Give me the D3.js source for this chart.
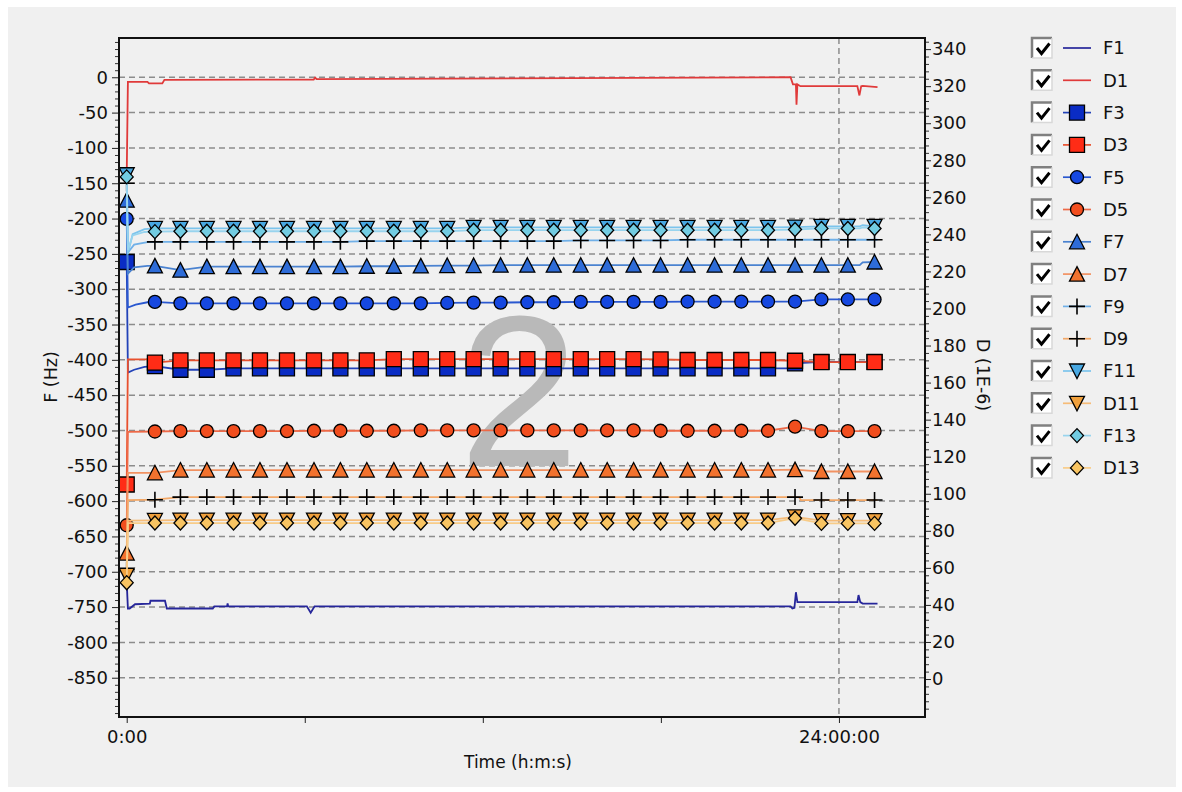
<!DOCTYPE html>
<html><head><meta charset="utf-8">
<script src="https://cdn.jsdelivr.net/npm/d3@7"></script>
<style>
html,body{margin:0;padding:0;background:#fff;}
svg{display:block;font-family:"DejaVu Sans",sans-serif;}
</style></head><body>
<svg id="chart" width="1182" height="792"></svg>
<script>
// ---- data -------------------------------------------------------------
// hours at which each marked sample was taken (index 0 = start of run)
const markerHours = [0, 0.95, 1.81, 2.70, 3.60, 4.49, 5.40, 6.31, 7.20, 8.09, 9.00, 9.91,
  10.80, 11.69, 12.60, 13.50, 14.39, 15.30, 16.19, 17.08, 17.99, 18.90, 19.81, 20.71,
  21.61, 22.52, 23.41, 24.30, 25.20];

// fundamental overtone, plotted as a plain trace: [hours, value]
const F1 = [[0,-715],[0.04,-752],[0.1,-752],[0.28,-746],[0.78,-745],[0.8,-741],[1.29,-741],
  [1.35,-752],[2.9,-752],[2.95,-749],[3.38,-749],[3.4,-745],[3.42,-749],[6.07,-749],
  [6.2,-758],[6.33,-749],[22.37,-749],[22.43,-752],[22.5,-751],[22.55,-729],[22.6,-743],
  [24.62,-743],[24.66,-733],[24.72,-743],[24.8,-745],[25.3,-745]];
const D1 = [[0,272],[0.04,322.3],[0.7,322.3],[0.75,321.5],[1.2,321.5],[1.27,323.4],
  [6.3,323.6],[6.35,324.6],[6.4,323.8],[22.37,324.8],[22.45,321],[22.55,321],[22.57,310],
  [22.6,321],[22.7,320],[24.62,320],[24.69,315],[24.75,320],[24.8,320.2],[25.3,319.5]];

// higher overtones: one value per entry of markerHours
const F3 = [-261.5, -409, -414, -414, -412, -412, -412, -412, -412, -412, -412, -412,
  -412, -412, -412, -412, -412, -412, -412, -412, -412, -412, -412, -412,
  -412, -405, -403, -403, -403];
const D3 = [105, 170.8, 172, 172, 172, 172, 172, 172, 172, 172, 172.7, 172.7,
  172.7, 172.7, 172.7, 172.7, 172.7, 172.7, 172.7, 172.7, 172.5, 172.2, 172.2, 172.2,
  172.2, 171.8, 171, 171, 171];
const F5 = [-200.5, -318, -320, -320, -320, -320, -320, -320, -320, -320, -320, -320,
  -319.5, -319, -319, -318.5, -318.5, -318, -318, -318, -318, -317.5, -317.5, -317.5,
  -317.5, -317.5, -314.5, -314.5, -314.5];
const D5 = [83, 133.6, 133.8, 133.8, 133.8, 133.8, 133.8, 134, 134, 134, 134, 134.2,
  134.2, 134.2, 134.2, 134.2, 134.2, 134.2, 134.2, 134.2, 134, 134, 134, 134,
  134, 136.2, 133.8, 133.8, 133.8];
const F7 = [-174, -267, -273, -268, -268, -268, -268, -268, -268, -267.5, -267.5, -267,
  -266.5, -266.5, -266, -266, -266, -266, -266, -266, -266, -266, -266, -266,
  -266, -266, -266, -266, -261.5];
const D7 = [68, 111.3, 112.8, 112.8, 112.8, 112.8, 112.8, 112.8, 112.8, 112.8, 112.8, 112.8,
  112.8, 112.8, 112.8, 112.8, 112.8, 112.8, 112.8, 112.8, 112.8, 112.8, 112.8, 112.8,
  112.8, 113, 112, 112, 112];
const F9 = [-150, -233, -233, -233, -233, -233, -233, -233, -233, -232, -232, -232,
  -232, -232, -232, -232, -232, -231, -231, -231, -231, -230, -230, -230,
  -230, -230, -230, -230, -230];
const D9 = [59, 96.8, 98.2, 98.2, 98.2, 98.2, 98.2, 98.2, 98.2, 98.2, 98.2, 98.2,
  98.2, 98.2, 98.2, 98.2, 98.2, 98.2, 98.2, 98.2, 98.2, 98.2, 98.2, 98.2,
  98.2, 98.2, 96.6, 96.6, 96.6];
const F11 = [-138, -214, -214, -214, -214, -214, -214, -214, -214, -214, -214, -214,
  -214, -212.5, -212.5, -212.5, -212.5, -212.5, -212.5, -212.5, -212.5, -212.5, -212.5, -212.5,
  -212.5, -212, -211, -211, -211];
const D11 = [56, 85.6, 85.8, 85.8, 85.8, 85.8, 85.8, 85.8, 85.8, 85.8, 85.8, 85.8,
  85.8, 85.8, 85.8, 85.8, 85.8, 85.8, 85.8, 85.8, 85.8, 85.8, 85.8, 85.8,
  85.8, 87.5, 85.5, 85.5, 85.5];
const F13 = [-141, -218.5, -218, -218, -218, -218, -218, -218, -218, -218, -218, -218,
  -218, -216.5, -216.5, -216.5, -216.5, -216.5, -216.5, -216.5, -216.5, -216.5, -216.5, -216.5,
  -216.5, -215.5, -214, -214, -214];
const D13 = [52, 84.2, 84.2, 84.2, 84.2, 84.2, 84.2, 84.2, 84.2, 84.2, 84.2, 84.2,
  84.2, 84.2, 84.2, 84.2, 84.2, 84.2, 84.2, 84.2, 84.2, 84.2, 84.2, 84.2,
  84.2, 86.8, 84, 84, 84];

// unmarked samples of the settling phase right after injection: [hours, value]
const F3Lead = [[0.04,-418],[0.25,-414],[0.6,-410]];
const D3Lead = [[0.04,172.5],[0.7,172.5]];
const F5Lead = [[0.04,-326],[0.3,-322],[0.7,-318.5]];
const D5Lead = [[0.04,133.4]];
const F7Lead = [[0.04,-278],[0.25,-269],[0.7,-267]];
const D7Lead = [[0.04,111.3]];
const F9Lead = [[0.04,-248],[0.25,-237],[0.7,-233.5]];
const D9Lead = [[0.04,96.6]];
const F11Lead = [[0.04,-250],[0.2,-222],[0.6,-215]];
const D11Lead = [[0.04,85.5]];
const F13Lead = [[0.04,-245],[0.2,-224],[0.6,-219]];
const D13Lead = [[0.04,84.2]];

// unmarked samples near the end of the run: [hours, value]
const F3Tail = [[22.35,-412],[22.45,-405],[25.3,-403]];
const D3Tail = [[25.3,171]];
const F5Tail = [[25.3,-314.5]];
const D5Tail = [[25.3,133.8]];
const F7Tail = [[24.7,-266],[24.8,-262],[25.3,-261.5]];
const D7Tail = [[25.3,112]];
const F9Tail = [[25.3,-230]];
const D9Tail = [[22.65,98.2],[22.72,96.6],[25.3,96.6]];
const F11Tail = [[24.7,-211],[24.8,-209.5],[25.3,-209.5]];
const D11Tail = [[25.3,85.5]];
const F13Tail = [[24.7,-214],[24.8,-212.5],[25.3,-212.5]];
const D13Tail = [[25.3,84]];

const fTicks = d3.range(-850, 1, 50);
const dTicks = d3.range(0, 341, 20);
const timeTicks = [0, 6, 12, 18, 24];
const timeLabels = {0: "0:00", 24: "24:00:00"};

// ---- styling ------------------------------------------------------------
const styles = {
  F1:  {line: "#26269a"},
  D1:  {line: "#e03a3a"},
  F3:  {line: "#2242b8", fill: "#0a2cc4", shape: "square"},
  D3:  {line: "#e8502e", fill: "#ff2c16", shape: "square"},
  F5:  {line: "#2a58d0", fill: "#1648e0", shape: "circle"},
  D5:  {line: "#ee6a48", fill: "#f24e1e", shape: "circle"},
  F7:  {line: "#4a82d0", fill: "#2e6cd8", shape: "triUp"},
  D7:  {line: "#f29262", fill: "#f2722e", shape: "triUp"},
  F9:  {line: "#70b0e8", fill: "none",    shape: "plus"},
  D9:  {line: "#f2a868", fill: "none",    shape: "plus"},
  F11: {line: "#7cc4ec", fill: "#48a8e2", shape: "triDown"},
  D11: {line: "#f6bc78", fill: "#f0a03c", shape: "triDown"},
  F13: {line: "#98d4ee", fill: "#72cce2", shape: "diamond"},
  D13: {line: "#f8cc88", fill: "#f8c462", shape: "diamond"}
};

const series = [
  {name: "F1", axis: "F", trace: F1},
  {name: "D1", axis: "D", trace: D1},
  {name: "F3", axis: "F", values: F3, lead: F3Lead, tail: F3Tail},
  {name: "D3", axis: "D", values: D3, lead: D3Lead, tail: D3Tail},
  {name: "F5", axis: "F", values: F5, lead: F5Lead, tail: F5Tail},
  {name: "D5", axis: "D", values: D5, lead: D5Lead, tail: D5Tail},
  {name: "F7", axis: "F", values: F7, lead: F7Lead, tail: F7Tail},
  {name: "D7", axis: "D", values: D7, lead: D7Lead, tail: D7Tail},
  {name: "F9", axis: "F", values: F9, lead: F9Lead, tail: F9Tail},
  {name: "D9", axis: "D", values: D9, lead: D9Lead, tail: D9Tail},
  {name: "F11", axis: "F", values: F11, lead: F11Lead, tail: F11Tail},
  {name: "D11", axis: "D", values: D11, lead: D11Lead, tail: D11Tail},
  {name: "F13", axis: "F", values: F13, lead: F13Lead, tail: F13Tail},
  {name: "D13", axis: "D", values: D13, lead: D13Lead, tail: D13Tail}
];

// ---- layout ----------------------------------------------------------------
const svg = d3.select("#chart");
const plot = {left: 119, top: 38, right: 925, bottom: 717};

const x = d3.scaleLinear().domain([-0.26, 26.9]).range([plot.left, plot.right]);
const yF = d3.scaleLinear().domain([-905.6, 55.6]).range([plot.bottom, plot.top]);
const yD = d3.scaleLinear().domain([-20.5, 346]).range([plot.bottom, plot.top]);

// panel background
svg.append("rect").attr("x", 8).attr("y", 7).attr("width", 1168).attr("height", 780)
  .attr("fill", "#f0f0f0");

// dashed grid
const grid = svg.append("g").attr("stroke", "#8c8c8c").attr("stroke-width", 1.5)
  .attr("stroke-dasharray", "6,4");
grid.selectAll("line.h").data(fTicks).join("line").attr("class", "h")
  .attr("x1", plot.left).attr("x2", plot.right)
  .attr("y1", d => yF(d)).attr("y2", d => yF(d));
grid.append("line")
  .attr("x1", x(24)).attr("x2", x(24)).attr("y1", plot.top).attr("y2", plot.bottom);

// panel number
svg.append("text").attr("x", 519).attr("y", 466).attr("text-anchor", "middle")
  .attr("font-family", "Liberation Sans, Arial, sans-serif").attr("font-size", 216)
  .attr("fill", "#b9b9b9").text("2");

// ---- series ----------------------------------------------------------------
svg.append("clipPath").attr("id", "plotClip").append("rect")
  .attr("x", plot.left).attr("y", plot.top)
  .attr("width", plot.right - plot.left).attr("height", plot.bottom - plot.top);

function markerShape(g, shape, fill) {
  const s = g.append(shape === "circle" ? "circle" : "path")
    .attr("stroke", "#000").attr("stroke-width", 1.3).attr("fill", fill);
  if (shape === "circle") s.attr("r", 6.5);
  else if (shape === "square") s.attr("d", "M-7.5,-7.5H7.5V7.5H-7.5Z");
  else if (shape === "triUp") s.attr("d", "M0,-7.5L7.5,7L-7.5,7Z");
  else if (shape === "triDown") s.attr("d", "M-7.5,-7L7.5,-7L0,7.5Z");
  else if (shape === "diamond") s.attr("d", "M0,-7L6.5,0L0,7L-6.5,0Z");
  else if (shape === "plus") s.attr("d", "M-8,0H8M0,-8V8").attr("stroke-width", 1.6).attr("fill", "none");
  return s;
}

const plotG = svg.append("g").attr("clip-path", "url(#plotClip)");
series.forEach(s => {
  const yS = s.axis === "F" ? yF : yD;
  const st = styles[s.name];
  let pts;
  if (s.trace) pts = s.trace;
  else {
    pts = s.values.map((v, i) => [markerHours[i], v]).concat(s.lead, s.tail)
      .sort((a, b) => a[0] - b[0]);
  }
  const line = d3.line().x(d => x(d[0])).y(d => yS(d[1]));
  plotG.append("path").datum(pts).attr("d", line)
    .attr("fill", "none").attr("stroke", st.line).attr("stroke-width", 1.8)
    .attr("stroke-linejoin", "miter");
  if (s.values) {
    s.values.forEach((v, i) => {
      const g = plotG.append("g")
        .attr("transform", `translate(${x(markerHours[i])},${yS(v)})`);
      markerShape(g, st.shape, st.fill);
    });
  }
});

// ---- axes --------------------------------------------------------------------
const axisFont = g => g.selectAll("text").attr("font-size", 18)
  .attr("font-family", "DejaVu Sans, sans-serif").attr("fill", "#111");
const plain = d => String(d);

// left (frequency)
const leftMinor = d3.range(-900, 51, 10).filter(v => !fTicks.includes(v));
svg.append("g").attr("transform", `translate(${plot.left},0)`)
  .call(d3.axisLeft(yF).tickValues(leftMinor).tickSize(4).tickFormat(""))
  .call(g => g.select(".domain").remove())
  .call(g => g.selectAll("line").attr("stroke", "#333"));
svg.append("g").attr("transform", `translate(${plot.left},0)`)
  .call(d3.axisLeft(yF).tickValues(fTicks).tickSize(7).tickPadding(4).tickFormat(plain))
  .call(g => g.select(".domain").remove())
  .call(g => g.selectAll("line").attr("stroke", "#222"))
  .call(axisFont);

// right (dissipation)
const rightMinor = d3.range(-20, 346, 4).filter(v => v % 20 !== 0);
svg.append("g").attr("transform", `translate(${plot.right},0)`)
  .call(d3.axisRight(yD).tickValues(rightMinor).tickSize(4).tickFormat(""))
  .call(g => g.select(".domain").remove())
  .call(g => g.selectAll("line").attr("stroke", "#333"));
svg.append("g").attr("transform", `translate(${plot.right},0)`)
  .call(d3.axisRight(yD).tickValues(dTicks).tickSize(6).tickPadding(1).tickFormat(plain))
  .call(g => g.select(".domain").remove())
  .call(g => g.selectAll("line").attr("stroke", "#222"))
  .call(axisFont);

// bottom (time)
svg.append("g").attr("transform", `translate(0,${plot.bottom})`)
  .call(d3.axisBottom(x).tickValues(timeTicks).tickSize(6).tickPadding(7)
    .tickFormat(d => timeLabels[d] || ""))
  .call(g => g.select(".domain").remove())
  .call(g => g.selectAll("line").attr("stroke", "#222"))
  .call(axisFont);

// frame
svg.append("rect").attr("x", plot.left).attr("y", plot.top)
  .attr("width", plot.right - plot.left).attr("height", plot.bottom - plot.top)
  .attr("fill", "none").attr("stroke", "#111").attr("stroke-width", 2);

// axis titles
svg.append("text").attr("transform", "translate(57,377) rotate(-90)")
  .attr("text-anchor", "middle").attr("font-size", 17.5).attr("fill", "#111").text("F (Hz)");
svg.append("text").attr("transform", "translate(977,375) rotate(90)")
  .attr("text-anchor", "middle").attr("font-size", 17.5).attr("fill", "#111").text("D (1E-6)");
svg.append("text").attr("x", 518).attr("y", 768).attr("text-anchor", "middle")
  .attr("font-size", 17).attr("fill", "#111").text("Time (h:m:s)");

// ---- legend ------------------------------------------------------------------
const legend = svg.append("g");
series.forEach((s, i) => {
  const cy = 48 + i * 32.3;
  const st = styles[s.name];
  const g = legend.append("g").attr("transform", `translate(0,${cy})`);
  // check box
  g.append("rect").attr("x", 1032).attr("y", -10).attr("width", 20).attr("height", 20)
    .attr("fill", "#fff");
  g.append("path").attr("d", "M1032,10V-10H1052").attr("fill", "none")
    .attr("stroke", "#808080").attr("stroke-width", 2.5);
  g.append("path").attr("d", "M1052,-10V10H1032").attr("fill", "none")
    .attr("stroke", "#d8d8d8").attr("stroke-width", 1.5);
  g.append("path").attr("d", "M1037,0L1041.5,5.5L1049.5,-4.5").attr("fill", "none")
    .attr("stroke", "#000").attr("stroke-width", 3);
  // sample
  g.append("line").attr("x1", 1063).attr("x2", 1091).attr("y1", 0).attr("y2", 0)
    .attr("stroke", st.line).attr("stroke-width", 1.7);
  if (st.shape) {
    const m = g.append("g").attr("transform", "translate(1077,0)");
    markerShape(m, st.shape, st.fill);
  }
  g.append("text").attr("x", 1103).attr("y", 0).attr("dy", "0.36em")
    .attr("font-size", 18).attr("fill", "#111").text(s.name);
});
</script>
</body></html>
